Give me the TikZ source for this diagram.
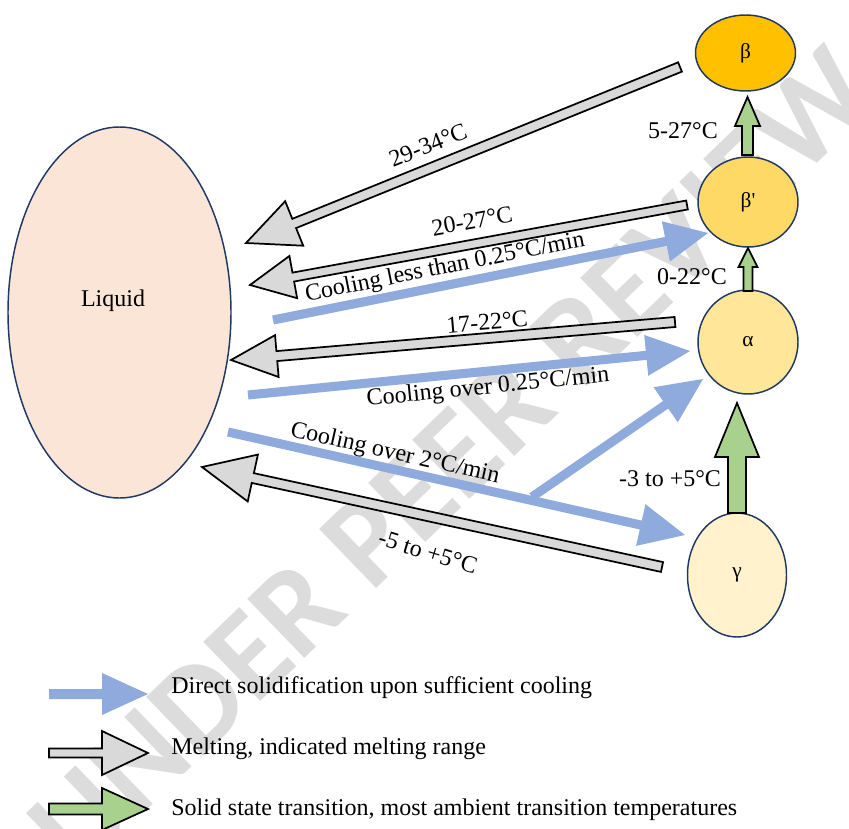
\documentclass[tikz,border=0pt]{standalone}
\usepackage{fontspec}
\setmainfont{Liberation Serif}
\newfontfamily\plainserif{Liberation Serif}[Ligatures=ResetAll]
\setsansfont{Carlito}
\usetikzlibrary{shapes.geometric,calc}
\definecolor{liqfill}{HTML}{FBE5D6}
\definecolor{edgeblue}{HTML}{1F3864}
\definecolor{betac}{HTML}{FFC000}
\definecolor{betapc}{HTML}{FFD966}
\definecolor{alphac}{HTML}{FFE699}
\definecolor{gammac}{HTML}{FFF2CC}
\definecolor{coolblue}{HTML}{8FAADC}
\definecolor{meltgray}{HTML}{D9D9D9}
\definecolor{transgreen}{HTML}{A9D18E}
\definecolor{wmgray}{HTML}{DCDCDC}
% #1 style, #2 tail, #3 tip, #4 shaft half width, #5 head half width, #6 head length
\newcommand{\blockarr}[6]{%
  \coordinate (ba-b) at ($(#3)!#6!(#2)$);
  \path[#1] ($(#2)!#4!90:(#3)$) -- ($(ba-b)!#4!-90:(#2)$) -- ($(ba-b)!#5!-90:(#2)$)
    -- (#3) -- ($(ba-b)!#5!90:(#2)$) -- ($(ba-b)!#4!90:(#2)$) -- ($(#2)!#4!-90:(#3)$) -- cycle;
}
\begin{document}
\begin{tikzpicture}[x=0.75pt,y=-0.75pt,
  phase/.style={ellipse, draw=edgeblue, line width=1.1pt, inner sep=0pt,
    font=\fontsize{16}{18}\selectfont},
  lbl/.style={font=\fontsize{18}{21}\selectfont, inner sep=1pt},
  legtxt/.style={font=\fontsize{18}{21}\selectfont, anchor=west, inner sep=0pt},
  melt/.style={fill=meltgray, draw=black, line width=1.3pt},
  trans/.style={fill=transgreen, draw=black, line width=1.3pt},
  cool/.style={fill=coolblue}]
\useasboundingbox (0,0) rectangle (849,828);
% watermark
\node[rotate=44, text=wmgray, font=\fontsize{95}{95}\selectfont\sffamily\bfseries, inner sep=0pt]
  (wm) at (452,460) {UNDER PEER REVIEW};
% phases
\node[phase, fill=liqfill, minimum width=167.25pt, minimum height=278.25pt] (liquid) at (119.5,312.5) {};
\node[lbl] (liqtxt) at (113,301) {Liquid};
\node[phase, fill=betac, minimum width=75pt, minimum height=57pt] (beta) at (745.5,53) {β};
\node[phase, fill=betapc, minimum width=75pt, minimum height=67.5pt] (betap) at (748,202) {\plainserif β'};
\node[phase, fill=alphac, minimum width=75pt, minimum height=78pt] (alpha) at (748,342) {α};
\node[phase, fill=gammac, minimum width=74.25pt, minimum height=93pt] (gamma) at (737,575) {γ};
% arrow end points
\coordinate (m1t) at (680,67);  \coordinate (m1h) at (246,243);
\coordinate (m2t) at (687,205); \coordinate (m2h) at (250,285);
\coordinate (m3t) at (675,322); \coordinate (m3h) at (231,360);
\coordinate (m4t) at (662,567); \coordinate (m4h) at (202,467);
\coordinate (c1t) at (273,320); \coordinate (c1h) at (708,233);
\coordinate (c2t) at (248,395); \coordinate (c2h) at (690,351);
\coordinate (c3t) at (228,432); \coordinate (c3h) at (685,535);
\coordinate (c4t) at (532,497); \coordinate (c4h) at (703,379);
\coordinate (s1t) at (747.5,155); \coordinate (s1h) at (747.5,97);
\coordinate (s2t) at (748,291); \coordinate (s2h) at (748,248);
\coordinate (s3t) at (737,513); \coordinate (s3h) at (737,403);
% melting arrows
\blockarr{melt}{m1t}{m1h}{3.75pt}{18pt}{39pt}
\blockarr{melt}{m2t}{m2h}{3.4pt}{16.1pt}{33pt}
\blockarr{melt}{m3t}{m3h}{3.75pt}{15.75pt}{34.5pt}
\blockarr{melt}{m4t}{m4h}{3.75pt}{18pt}{39pt}
% cooling arrows
\blockarr{cool}{c1t}{c1h}{3.4pt}{15.4pt}{32.25pt}
\blockarr{cool}{c2t}{c2h}{3.4pt}{15.4pt}{33pt}
\blockarr{cool}{c3t}{c3h}{3.4pt}{16pt}{34pt}
\blockarr{cool}{c4t}{c4h}{3.4pt}{16pt}{34pt}
% solid state transitions
\blockarr{trans}{s1t}{s1h}{4.1pt}{9.4pt}{21.75pt}
\blockarr{trans}{s2t}{s2h}{3.4pt}{7.1pt}{14.25pt}
\blockarr{trans}{s3t}{s3h}{6.75pt}{16.5pt}{40.5pt}
% labels
\node[lbl, rotate=22] (l1) at (428,145) {29-34°C};
\node[lbl] (l2) at (683,131) {5-27°C};
\node[lbl, rotate=10.4] (l3) at (472,221) {20-27°C};
\node[lbl, rotate=11.3] (l4) at (445,268) {Cooling less than 0.25°C/min};
\node[lbl] (l5) at (692,277) {0-22°C};
\node[lbl, rotate=4.9] (l6) at (487,322) {17-22°C};
\node[lbl, rotate=5.7] (l7) at (488,388) {Cooling over 0.25°C/min};
\node[lbl, rotate=-12.7] (l8) at (395,454) {Cooling over 2°C/min};
\node[lbl] (l9) at (670,479) {-3 to +5°C};
\node[lbl, rotate=-17] (l10) at (428,552) {-5 to +5°C};
% legend
\coordinate (k1t) at (49,694); \coordinate (k1h) at (148,694);
\coordinate (k2t) at (49,753); \coordinate (k2h) at (148,753);
\coordinate (k3t) at (49,809); \coordinate (k3h) at (148,809);
\blockarr{cool}{k1t}{k1h}{3.75pt}{15.75pt}{34.5pt}
\blockarr{melt}{k2t}{k2h}{3.4pt}{16.5pt}{34.5pt}
\blockarr{trans}{k3t}{k3h}{4.1pt}{15.75pt}{34.5pt}
\node[legtxt] (t1) at (171,688) {Direct solidification upon sufficient cooling};
\node[legtxt] (t2) at (171,749) {Melting, indicated melting range};
\node[legtxt] (t3) at (171,810) {Solid state transition, most ambient transition temperatures};
\end{tikzpicture}
\end{document}
